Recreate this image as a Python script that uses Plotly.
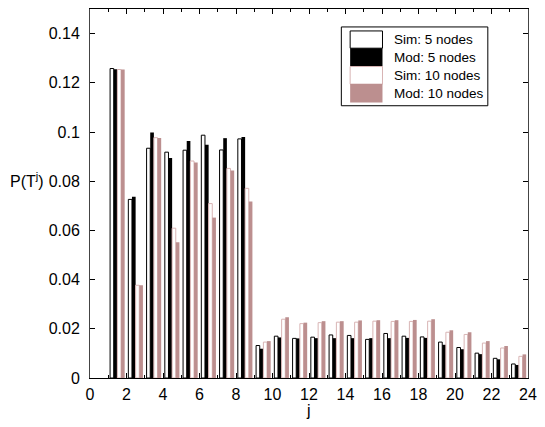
import plotly.graph_objects as go

# ---- data ----
j = list(range(1, 24))
sim5 = [0.1258, 0.0726, 0.0934, 0.0918, 0.0926, 0.0987, 0.0927, 0.0972, 0.0132,
        0.0170, 0.0161, 0.0166, 0.0175, 0.0173, 0.0157, 0.0181, 0.0170, 0.0167,
        0.0146, 0.0124, 0.0101, 0.0080, 0.0057]
mod5 = [0.1255, 0.0737, 0.0998, 0.0894, 0.0963, 0.0948, 0.0975, 0.0980, 0.0119,
        0.0165, 0.0161, 0.0162, 0.0162, 0.0162, 0.0162, 0.0162, 0.0163, 0.0163,
        0.0135, 0.0117, 0.0097, 0.0076, 0.0053]
sim10 = [0.1254, 0.0377, 0.0977, 0.0609, 0.0882, 0.0709, 0.0852, 0.0771, 0.0146,
         0.0239, 0.0221, 0.0225, 0.0227, 0.0227, 0.0231, 0.0230, 0.0230, 0.0231,
         0.0186, 0.0177, 0.0142, 0.0122, 0.0088]
mod10 = [0.1254, 0.0377, 0.0976, 0.0552, 0.0876, 0.0652, 0.0844, 0.0717, 0.0150,
         0.0247, 0.0225, 0.0231, 0.0231, 0.0234, 0.0235, 0.0235, 0.0236, 0.0239,
         0.0194, 0.0186, 0.0150, 0.0130, 0.0096]
names = ["Sim: 5 nodes", "Mod: 5 nodes", "Sim: 10 nodes", "Mod: 10 nodes"]
xticks = list(range(0, 25, 2))
yticks = [0, 0.02, 0.04, 0.06, 0.08, 0.1, 0.12, 0.14]

PINK = "#bc8f8f"
SIMPINK = "#d8b4b4"
styles = [
    dict(color="white", line=dict(color="black", width=1)),
    dict(color="black", line=dict(color="black", width=0)),
    dict(color="white", line=dict(color=SIMPINK, width=1)),
    dict(color=PINK, line=dict(color=PINK, width=0)),
]

xc = [v + 0.5 for v in j]  # groups occupy the interval [j, j+1]

fig = go.Figure()
for name, vals, st in zip(names, [sim5, mod5, sim10, mod10], styles):
    fig.add_trace(go.Bar(x=xc, y=vals, name=name, marker=st, showlegend=False))

FONT = "Liberation Sans, Arial, Helvetica, sans-serif"
W, H = 545, 427
L, R, T, B = 90, 8, 8, 49
PW, PH = W - L - R, H - T - B

def px(x):
    return (x - L) / PW

def py(y):
    return (H - B - y) / PH

fig.update_layout(
    width=W, height=H,
    margin=dict(l=L, r=R, t=T, b=B),
    paper_bgcolor="white", plot_bgcolor="white",
    barmode="group", bargap=0.2, bargroupgap=0,
    font=dict(family=FONT, size=16, color="black"),
    xaxis=dict(range=[0, 24], tickvals=xticks, ticks="inside", ticklen=5,
               tickcolor="black", showline=True, linecolor="black", linewidth=1,
               mirror="ticks", showgrid=False, zeroline=False,
               minor=dict(dtick=1, ticks="inside", ticklen=3, tickcolor="black"),
               tickfont=dict(size=16), ticklabelstandoff=2,
               ticklabeloverflow="allow", title=None),
    yaxis=dict(range=[0, 0.15], tickvals=yticks, ticks="inside", ticklen=5,
               tickcolor="black", showline=True, linecolor="#444", linewidth=1,
               mirror="ticks", showgrid=False, zeroline=False,
               tickfont=dict(size=16), ticklabelstandoff=6, title=None),
)

annotations = [
    dict(text="j", x=px(313), xref="paper", y=py(411), yref="paper",
         showarrow=False, font=dict(size=16), xanchor="center", yanchor="middle"),
    dict(text="P(T<sup>j</sup>)", x=px(26), xref="paper", y=py(179), yref="paper",
         showarrow=False, font=dict(size=16), xanchor="center", yanchor="middle"),
]
shapes = [
    dict(type="rect", xref="paper", yref="paper",
         x0=px(346.5), x1=px(496), y0=py(26), y1=py(105),
         line=dict(color="black", width=1), fillcolor="white", layer="above"),
]
sw = [(30, 47.3), (47.3, 65.7), (65.7, 83.3), (83.3, 101.7)]
for (y0, y1), st, name in zip(sw, styles, names):
    lw = st["line"]["width"]
    shapes.append(dict(type="rect", xref="paper", yref="paper",
                       x0=px(355.5), x1=px(388.5), y0=py(y0), y1=py(y1),
                       fillcolor=st["color"],
                       line=dict(color=st["line"]["color"], width=lw), layer="above"))
    annotations.append(dict(text=name, x=px(398), xref="paper",
                            y=py((y0 + y1) / 2), yref="paper", showarrow=False,
                            xanchor="left", yanchor="middle", font=dict(size=13.5)))
fig.update_layout(annotations=annotations, shapes=shapes)

fig.write_html("out.html", config={"displayModeBar": False},
               post_script="document.body.style.margin='0';document.body.style.overflow='hidden';")
